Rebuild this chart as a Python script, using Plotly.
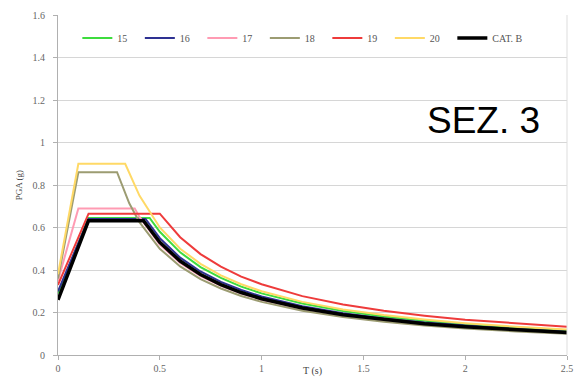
import plotly.graph_objects as go

# ---- data ----
t15 = [0, 0.15, 0.45, 0.5, 0.6, 0.7, 0.8, 0.9, 1.0, 1.2, 1.4, 1.6, 1.8, 2.0, 2.25, 2.5]
y15 = [0.29, 0.645, 0.645, 0.58, 0.483, 0.414, 0.363, 0.322, 0.29, 0.242, 0.207, 0.181, 0.161, 0.145, 0.129, 0.116]

t16 = [0, 0.15, 0.43, 0.5, 0.6, 0.7, 0.8, 0.9, 1.0, 1.2, 1.4, 1.6, 1.8, 2.0, 2.25, 2.5]
y16 = [0.30, 0.64, 0.64, 0.55, 0.458, 0.393, 0.344, 0.306, 0.275, 0.229, 0.196, 0.172, 0.153, 0.138, 0.122, 0.11]

t17 = [0, 0.1, 0.377, 0.4, 0.5, 0.6, 0.7, 0.8, 0.9, 1.0, 1.2, 1.4, 1.6, 1.8, 2.0, 2.25, 2.5]
y17 = [0.35, 0.69, 0.69, 0.65, 0.52, 0.433, 0.371, 0.325, 0.289, 0.26, 0.217, 0.186, 0.163, 0.144, 0.13, 0.116, 0.104]

t18 = [0, 0.1, 0.29, 0.35, 0.4, 0.5, 0.6, 0.7, 0.8, 0.9, 1.0, 1.2, 1.4, 1.6, 1.8, 2.0, 2.25, 2.5]
y18 = [0.36, 0.86, 0.86, 0.714, 0.625, 0.5, 0.417, 0.357, 0.313, 0.278, 0.25, 0.208, 0.179, 0.156, 0.139, 0.125, 0.111, 0.1]

t19 = [0, 0.15, 0.5, 0.6, 0.7, 0.8, 0.9, 1.0, 1.2, 1.4, 1.6, 1.8, 2.0, 2.25, 2.5]
y19 = [0.33, 0.665, 0.665, 0.554, 0.475, 0.416, 0.369, 0.333, 0.277, 0.238, 0.208, 0.185, 0.166, 0.148, 0.133]

t20 = [0, 0.1, 0.33, 0.4, 0.5, 0.6, 0.7, 0.8, 0.9, 1.0, 1.2, 1.4, 1.6, 1.8, 2.0, 2.25, 2.5]
y20 = [0.38, 0.90, 0.90, 0.75, 0.60, 0.50, 0.429, 0.375, 0.333, 0.30, 0.25, 0.214, 0.188, 0.167, 0.15, 0.133, 0.12]

tB = [0, 0.15, 0.42, 0.5, 0.6, 0.7, 0.8, 0.9, 1.0, 1.2, 1.4, 1.6, 1.8, 2.0, 2.25, 2.5]
yB = [0.26, 0.632, 0.632, 0.53, 0.442, 0.379, 0.331, 0.294, 0.265, 0.221, 0.189, 0.166, 0.147, 0.133, 0.118, 0.106]

names = ["15", "16", "17", "18", "19", "20", "CAT. B"]
xs = [t15, t16, t17, t18, t19, t20, tB]
ys = [y15, y16, y17, y18, y19, y20, yB]
colors = ["#3ddc3d", "#2e3192", "#ff9bb3", "#9c9c72", "#ee3b3b", "#ffd966", "#000000"]
widths = [2, 2, 2, 2, 2, 2, 3.5]

x_ticks = [0, 0.5, 1, 1.5, 2, 2.5]
x_ticklabels = ["0", "0.5", "1", "1.5", "2", "2.5"]
y_ticks = [0, 0.2, 0.4, 0.6, 0.8, 1.0, 1.2, 1.4, 1.6]
y_ticklabels = ["0", "0.2", "0.4", "0.6", "0.8", "1", "1.2", "1.4", "1.6"]

PAD = "\u00a0" * 3

fig = go.Figure()
for i, (n, x, y, c, w) in enumerate(zip(names, xs, ys, colors, widths)):
    label = n if i == len(names) - 1 else n + PAD
    fig.add_trace(go.Scatter(x=x, y=y, mode="lines", name=label,
                             line=dict(color=c, width=w)))

tickfont = dict(family="Liberation Serif", size=10, color="#666666")

fig.update_layout(
    width=582, height=383,
    margin=dict(l=58, r=9, t=15, b=23),
    paper_bgcolor="white", plot_bgcolor="white",
    showlegend=True,
    legend=dict(orientation="h", x=0.038, xanchor="left", y=0.975, yanchor="top",
                font=dict(family="Liberation Serif", size=10, color="#555555"),
                bgcolor="rgba(0,0,0,0)",
                tracegroupgap=0, itemwidth=30),
    xaxis=dict(range=[0, 2.5], tickvals=x_ticks, ticktext=x_ticklabels,
               showgrid=False, zeroline=False, showline=True, linecolor="#b0b0b0",
               ticks="outside", ticklen=4, tickcolor="#b0b0b0", tickfont=tickfont,
               mirror=False),
    yaxis=dict(range=[0, 1.6], tickvals=y_ticks, ticktext=y_ticklabels,
               showgrid=True, gridcolor="#d6d6d6", gridwidth=1, zeroline=False,
               showline=True, linecolor="#b0b0b0", ticks="outside", ticklen=4,
               tickcolor="#b0b0b0", tickfont=tickfont, ticklabelstandoff=6,
               title=dict(text="PGA (g)", font=dict(family="Liberation Serif", size=9, color="#444444"),
                          standoff=8)),
    annotations=[
        dict(text="SEZ. 3", x=0.835, y=0.69, xref="paper", yref="paper",
             xanchor="center", yanchor="middle",
             showarrow=False, font=dict(family="Liberation Sans", size=37, color="#000000")),
        dict(text="T (s)", x=1.25, y=0, xref="x", yref="paper", yanchor="top",
             yshift=-8, showarrow=False,
             font=dict(family="Liberation Serif", size=10, color="#444444")),
    ],
    shapes=[
        dict(type="line", xref="paper", yref="paper", x0=1, x1=1, y0=0, y1=1,
             line=dict(color="#dddddd", width=1)),
    ],
)

fig.write_html("out.html")
